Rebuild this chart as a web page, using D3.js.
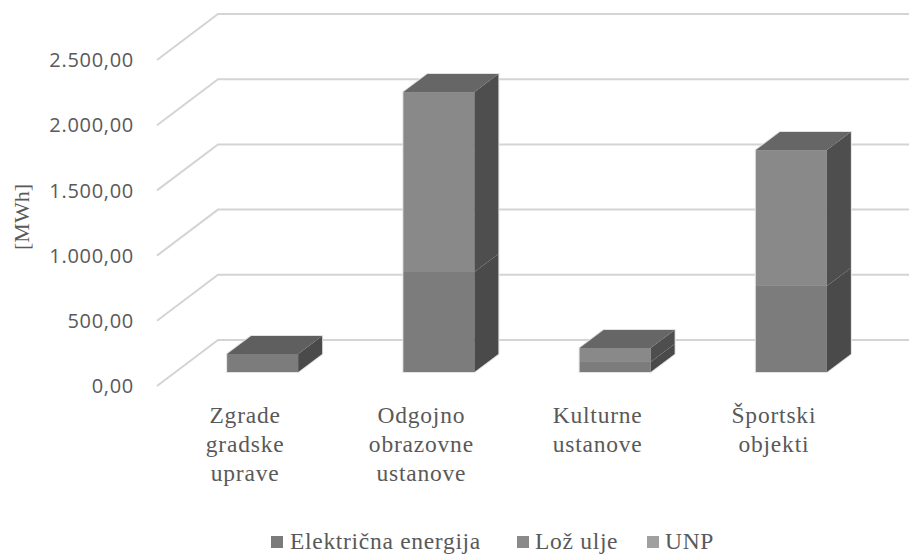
<!DOCTYPE html>
<html><head><meta charset="utf-8">
<script src="https://cdn.jsdelivr.net/npm/d3@7"></script>
<style>html,body{margin:0;padding:0;background:#fff}svg{display:block}</style>
</head><body><svg id="c" width="909" height="555"></svg>
<script>
const categories = [["Zgrade","gradske","uprave"],["Odgojno","obrazovne","ustanove"],["Kulturne","ustanove"],["Športski","objekti"]];
const seriesNames = ["Električna energija","Lož ulje","UNP"];
const elektricna = [138, 767, 77, 660];
const lozUlje = [0, 1380, 107, 1042];
const unp = [0, 0, 0, 0];
const tickValues = [0,500,1000,1500,2000,2500];
const frontColors = ["#7c7c7c","#898989","#a0a0a0"];
const sideColors = ["#4a4a4a","#4e4e4e","#5a5a5a"];
const topColors = ["#5f5f5f","#666666","#707070"];
const legendColors = ["#7b7b7b","#8a8a8a","#a0a0a0"];
const yAxisTitle = "[MWh]";

const svg = d3.select("#c");
const serif = "'Liberation Serif',serif", sans = "'Open Sans',sans-serif";
const x = d3.scaleBand().domain(d3.range(categories.length)).range([157,862]).paddingInner(0).paddingOuter(0);
const h = d3.scaleLinear().domain([0,2500]).range([386,60]);
const depthX = 61, depthY = 46, rightEnd = 909;

const grid = svg.append("g").attr("fill","none").attr("stroke","#d4d4d4").attr("stroke-width",2);
tickValues.forEach(t=>{
  const y=h(t);
  grid.append("path").attr("d",d3.line()([[x.range()[0],y],[x.range()[0]+depthX,y-depthY],[rightEnd,y-depthY]]));
});
svg.append("g").selectAll("text").data(tickValues).join("text")
  .attr("x",134).attr("y",d=>h(d)).attr("dy","0.36em").attr("text-anchor","end")
  .attr("font-family",sans).attr("font-size",20).attr("letter-spacing",0.7).attr("fill","#595959")
  .text(d=>d3.format(",.2f")(d).replace(/,/g,"#").replace(".",",").replace(/#/g,"."));
svg.append("text").attr("transform","translate(29,217) rotate(-90)").attr("text-anchor","middle")
  .attr("font-family",serif).attr("font-size",22).attr("fill","#595959").text(yAxisTitle);

const barW = 71, off = 17.5, lift = 14, bdx = 24, bdy = 18;
const series = [elektricna,lozUlje,unp];
categories.forEach((c,i)=>{
  const g = svg.append("g");
  const x0 = x(i)+x.bandwidth()/2 + off - barW/2, x1 = x0+barW;
  const total = d3.sum(series, s=>s[i]);
  const yB=h(0)-lift, yT=h(total)-lift;
  g.append("path").attr("fill","none").attr("stroke","#e2e2e2").attr("stroke-width",2)
    .attr("d",d3.line()([[x0,yB],[x0,yT],[x0+bdx,yT-bdy],[x1+bdx,yT-bdy],[x1+bdx,yB-bdy],[x1,yB]])+"Z");
  let acc = 0;
  series.forEach((s,k)=>{
    const v=s[i]; if(!v) return;
    const yb=h(acc)-lift, yt=h(acc+v)-lift;
    g.append("rect").attr("x",x0).attr("y",yt).attr("width",barW).attr("height",yb-yt).attr("fill",frontColors[k]);
    g.append("path").attr("fill",sideColors[k]).attr("d",d3.line()([[x1,yb],[x1+bdx,yb-bdy],[x1+bdx,yt-bdy],[x1,yt]])+"Z");
    acc+=v;
    const nextAny = series.slice(k+1).some(q=>q[i]>0);
    if(!nextAny) g.append("path").attr("fill",topColors[k]).attr("d",d3.line()([[x0,yt],[x0+bdx,yt-bdy],[x1+bdx,yt-bdy],[x1,yt]])+"Z");
  });
  const t = svg.append("text").attr("text-anchor","middle").attr("font-family",serif).attr("font-size",23.5).attr("letter-spacing",0.8).attr("fill","#595959");
  c.forEach((l,j)=>t.append("tspan").attr("x",x(i)+x.bandwidth()/2).attr("y",423+j*29).text(l));
});

const lx=[271,517,647], tx=[290,535,665];
seriesNames.forEach((n,k)=>{
  svg.append("rect").attr("x",lx[k]).attr("y",536).attr("width",12).attr("height",12).attr("fill",legendColors[k]);
  svg.append("text").attr("x",tx[k]).attr("y",549).attr("font-family",serif).attr("font-size",23.5).attr("letter-spacing",0.7).attr("fill","#595959").text(n);
});
</script></body></html>
